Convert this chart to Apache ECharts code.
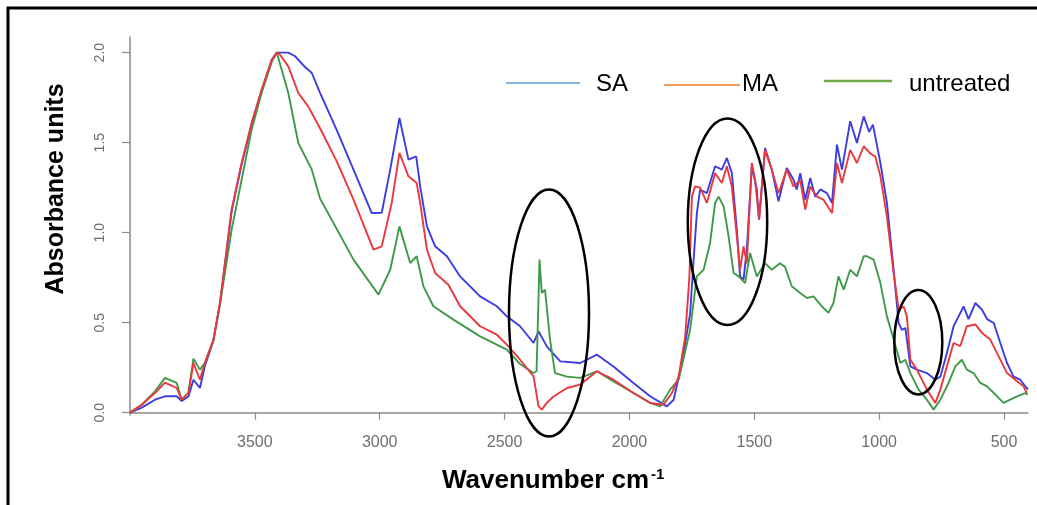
<!DOCTYPE html>
<html>
<head>
<meta charset="utf-8">
<script src="https://cdn.jsdelivr.net/npm/echarts@6/dist/echarts.min.js"></script>
<style>
html,body{margin:0;padding:0;background:#fff;}
#chart{width:1037px;height:505px;}
</style>
</head>
<body>
<div id="chart"></div>
<script>
// ---- data (wavenumber cm-1, absorbance) ----
var saWn = [4000,3953,3900,3860,3813,3793,3766,3746,3720,3700,3666,3640,3620,3593,3553,3513,3473,3432,3412,3390,3366,3339,3299,3272,3239,3172,3105,3032,2992,2958,2921,2885,2854,2838,2811,2778,2731,2678,2598,2531,2491,2438,2384,2364,2331,2277,2197,2130,2064,1984,1917,1850,1823,1790,1757,1744,1730,1717,1690,1657,1630,1610,1590,1570,1557,1543,1530,1510,1490,1481,1457,1430,1403,1370,1343,1330,1316,1296,1276,1256,1236,1209,1189,1169,1149,1116,1089,1062,1040,1025,995,969,942,922,909,895,875,849,809,775,755,729,702,682,662,642,615,588,568,541,515,488,462,435,415,404];
var saAbs = [0.0,0.028,0.072,0.091,0.091,0.065,0.09,0.183,0.137,0.26,0.40,0.60,0.82,1.12,1.38,1.60,1.79,1.96,2.0,2.0,2.0,1.98,1.92,1.887,1.776,1.57,1.35,1.109,1.11,1.35,1.637,1.406,1.424,1.257,1.035,0.924,0.869,0.757,0.646,0.591,0.535,0.48,0.387,0.452,0.368,0.285,0.276,0.322,0.257,0.165,0.091,0.035,0.072,0.276,0.55,0.83,1.109,1.239,1.22,1.369,1.35,1.415,1.332,1.017,0.757,0.74,0.906,1.369,1.24,1.072,1.47,1.35,1.174,1.36,1.294,1.24,1.33,1.183,1.304,1.2,1.24,1.22,1.165,1.489,1.35,1.619,1.498,1.646,1.56,1.6,1.387,1.165,0.794,0.498,0.46,0.47,0.257,0.239,0.22,0.183,0.2,0.33,0.48,0.535,0.59,0.52,0.609,0.572,0.52,0.498,0.387,0.276,0.2,0.183,0.146,0.13];

var maWn = [4000,3953,3900,3860,3813,3793,3766,3746,3720,3700,3666,3640,3620,3593,3553,3513,3473,3432,3412,3400,3366,3326,3286,3239,3172,3105,3025,2992,2952,2921,2885,2852,2838,2811,2778,2725,2678,2598,2531,2491,2438,2384,2364,2351,2331,2304,2250,2197,2130,2064,1984,1917,1864,1830,1803,1777,1760,1750,1737,1717,1690,1657,1630,1610,1590,1570,1557,1543,1530,1510,1497,1481,1457,1430,1403,1370,1343,1316,1296,1276,1249,1223,1189,1169,1149,1116,1089,1062,1036,1016,995,969,942,922,902,889,875,849,809,775,755,729,702,675,649,615,588,555,528,488,455,422,409];
var maAbs = [0.0,0.044,0.109,0.167,0.137,0.072,0.11,0.276,0.183,0.277,0.405,0.609,0.83,1.128,1.387,1.61,1.794,1.961,2.0,1.99,1.924,1.776,1.70,1.58,1.396,1.183,0.906,0.924,1.165,1.443,1.313,1.276,1.165,0.906,0.776,0.711,0.591,0.48,0.433,0.378,0.294,0.202,0.035,0.017,0.054,0.09,0.137,0.156,0.23,0.183,0.109,0.054,0.044,0.109,0.2,0.42,0.75,1.2,1.257,1.25,1.165,1.33,1.276,1.369,1.257,0.98,0.794,0.924,0.83,1.387,1.294,1.072,1.46,1.35,1.22,1.35,1.257,1.29,1.128,1.257,1.2,1.183,1.109,1.387,1.276,1.46,1.387,1.48,1.44,1.424,1.313,1.09,0.775,0.572,0.59,0.535,0.294,0.239,0.128,0.054,0.128,0.257,0.387,0.37,0.48,0.49,0.443,0.406,0.331,0.22,0.183,0.146,0.11];

var untreatedWn = [4000,3953,3900,3860,3813,3793,3766,3746,3720,3700,3666,3640,3620,3593,3553,3513,3473,3432,3412,3366,3326,3272,3239,3105,3005,2958,2921,2878,2852,2825,2785,2705,2598,2491,2438,2384,2372,2360,2351,2338,2318,2298,2250,2197,2130,2064,1984,1917,1877,1837,1803,1757,1730,1703,1677,1657,1643,1623,1603,1583,1563,1537,1517,1490,1457,1430,1397,1377,1350,1316,1289,1263,1229,1203,1183,1163,1142,1116,1089,1062,1049,1022,995,969,942,915,895,875,842,809,782,755,722,695,669,649,622,595,568,541,502,475,448,415,405];
var untreatedAbs = [0.0,0.044,0.118,0.193,0.165,0.072,0.11,0.30,0.239,0.277,0.40,0.60,0.776,1.017,1.294,1.572,1.776,1.95,2.0,1.776,1.498,1.35,1.19,0.85,0.656,0.794,1.035,0.831,0.869,0.702,0.591,0.517,0.424,0.35,0.27,0.22,0.23,0.85,0.665,0.683,0.406,0.22,0.2,0.193,0.23,0.174,0.109,0.054,0.035,0.128,0.183,0.461,0.757,0.794,0.943,1.165,1.2,1.146,0.98,0.776,0.757,0.72,0.887,0.757,0.831,0.794,0.83,0.81,0.702,0.665,0.637,0.646,0.59,0.554,0.609,0.757,0.683,0.794,0.757,0.869,0.869,0.85,0.72,0.535,0.406,0.276,0.294,0.22,0.128,0.072,0.017,0.072,0.165,0.257,0.294,0.239,0.22,0.165,0.146,0.109,0.054,0.072,0.09,0.109,0.1];

var xTickValues = [3500,3000,2500,2000,1500,1000,500];
var yTickValues = [0,0.5,1,1.5,2];
var legendNames = ['SA','MA','untreated'];

function pairs(w,a){var r=[];for(var i=0;i<w.length;i++){r.push([w[i],a[i]]);}return r;}

var FONT = '"Liberation Sans", Arial, sans-serif';
var chart = echarts.init(document.getElementById('chart'), null, {renderer:'canvas'});

var axisGray = '#8a8a8a';
var labelGray = '#6e6e6e';

chart.setOption({
  animation:false,
  backgroundColor:'#ffffff',
  grid:{left:130,right:9,top:37,bottom:90},
  xAxis:{
    type:'value', inverse:true, min:404, max:4000,
    splitLine:{show:false},
    axisLine:{show:true,lineStyle:{color:axisGray,width:1.5}},
    axisTick:{show:true,length:7,customValues:xTickValues,lineStyle:{color:axisGray,width:1.2}},
    axisLabel:{customValues:xTickValues,color:labelGray,fontSize:16,fontFamily:FONT,margin:20,
      formatter:function(v){return String(Math.round(v));}}
  },
  yAxis:{
    type:'value', min:-0.013, max:2.087,
    splitLine:{show:false},
    axisLine:{show:true,lineStyle:{color:axisGray,width:1.5}},
    axisTick:{show:true,length:8,customValues:yTickValues,lineStyle:{color:axisGray,width:1.2}},
    axisLabel:{customValues:yTickValues,rotate:90,color:labelGray,fontSize:14,fontFamily:FONT,margin:23,
      formatter:function(v){return v.toFixed(1);}}
  },
  series:[
    {name:legendNames[0],type:'line',data:pairs(saWn,saAbs),showSymbol:false,
      lineStyle:{color:'#3c3ce0',width:1.9},itemStyle:{color:'#3c3ce0'},z:2},
    {name:legendNames[2],type:'line',data:pairs(untreatedWn,untreatedAbs),showSymbol:false,
      lineStyle:{color:'#3f9a48',width:1.9},itemStyle:{color:'#3f9a48'},z:3},
    {name:legendNames[1],type:'line',data:pairs(maWn,maAbs),showSymbol:false,
      lineStyle:{color:'#e8383d',width:1.9},itemStyle:{color:'#e8383d'},z:4}
  ],
  graphic:[
    {type:'polyline',shape:{points:[[8,510],[8,8],[1045,8]]},style:{stroke:'#000',lineWidth:3,fill:null},z:100},
    {type:'text',x:56,y:189,rotation:Math.PI/2,style:{text:'Absorbance units',font:'bold 25px '+FONT,fill:'#000',textAlign:'center',textVerticalAlign:'middle'},z:100},
    {type:'text',x:442,y:481,style:{text:'Wavenumber cm',font:'bold 26px '+FONT,fill:'#000',textAlign:'left',textVerticalAlign:'middle'},z:100},
    {type:'text',x:651,y:475,style:{text:'-1',font:'bold 15px '+FONT,fill:'#000',textAlign:'left',textVerticalAlign:'middle'},z:100},
    {type:'line',shape:{x1:506,y1:83,x2:580,y2:83},style:{stroke:'#5B9BD5',lineWidth:1.6},z:100},
    {type:'text',x:596,y:84,style:{text:legendNames[0],font:'24px '+FONT,fill:'#000',textAlign:'left',textVerticalAlign:'middle'},z:100},
    {type:'line',shape:{x1:664,y1:85,x2:740,y2:85},style:{stroke:'#ED7D31',lineWidth:1.6},z:100},
    {type:'text',x:742,y:84,style:{text:legendNames[1],font:'24px '+FONT,fill:'#000',textAlign:'left',textVerticalAlign:'middle'},z:100},
    {type:'line',shape:{x1:824,y1:81,x2:892,y2:81},style:{stroke:'#70AD47',lineWidth:2.6},z:100},
    {type:'text',x:909,y:84,style:{text:legendNames[2],font:'24px '+FONT,fill:'#000',textAlign:'left',textVerticalAlign:'middle'},z:100},
    {type:'ellipse',shape:{cx:549,cy:313,rx:40,ry:123.5},style:{fill:null,stroke:'#000',lineWidth:2.5},z:100},
    {type:'ellipse',shape:{cx:727.5,cy:221.7,rx:39.7,ry:103.3},style:{fill:null,stroke:'#000',lineWidth:2.5},z:100},
    {type:'ellipse',shape:{cx:918.3,cy:342.2,rx:24,ry:52.2},style:{fill:null,stroke:'#000',lineWidth:2.5},z:100}
  ]
});
</script>
</body>
</html>
